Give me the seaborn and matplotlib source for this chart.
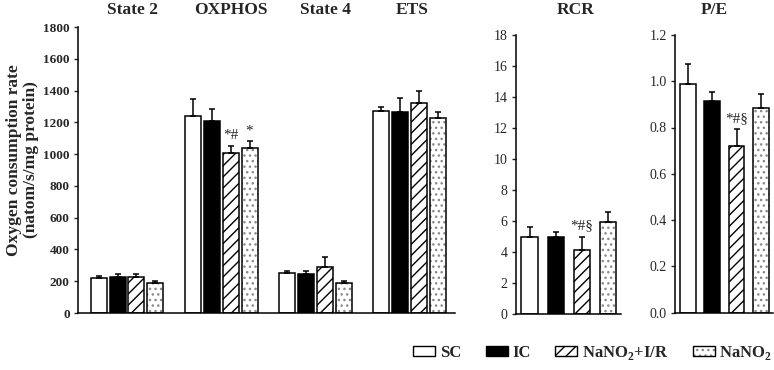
import matplotlib
matplotlib.use("Agg")
import matplotlib.pyplot as plt
from matplotlib.patches import Patch
import numpy as np
import pandas as pd
import seaborn as sns

# Data
phases = ["State 2", "OXPHOS", "State 4", "ETS"]
groups = ["SC", "IC", "NaNO2+I/R", "NaNO2"]
group_labels = ["SC", "IC", r"NaNO$_\mathbf{2}$+I/R", r"NaNO$_\mathbf{2}$"]

sc_rate = [220, 1240, 250, 1272]
sc_err = [16, 108, 16, 24]
ic_rate = [228, 1210, 243, 1262]
ic_err = [17, 75, 22, 93]
ir_rate = [228, 1006, 288, 1323]
ir_err = [20, 42, 62, 76]
no2_rate = [190, 1038, 187, 1225]
no2_err = [10, 42, 17, 38]

rcr_mean = [5.0, 5.0, 4.13, 5.95]
rcr_err = [0.6, 0.3, 0.87, 0.6]
pe_mean = [0.988, 0.916, 0.72, 0.883]
pe_err = [0.086, 0.039, 0.073, 0.062]

# significance marks: (phase, group, text)
rate_marks = [("OXPHOS", "NaNO2+I/R", "*#"), ("OXPHOS", "NaNO2", "*")]
rcr_marks = [("NaNO2+I/R", "*#§")]
pe_marks = [("NaNO2+I/R", "*#§")]

fills = ["white", "black", "white", "white"]
hatches = ["", "", "///", "..."]
hatch_colors = ["black", "black", "black", "#8a8a8a"]

sns.set_style("ticks")
plt.rcParams["font.family"] = ["Liberation Serif", "DejaVu Serif"]
plt.rcParams["mathtext.fontset"] = "custom"
plt.rcParams["mathtext.rm"] = "Liberation Serif"
plt.rcParams["mathtext.bf"] = "Liberation Serif:bold"
plt.rcParams["hatch.linewidth"] = 1.0

# long table for the rate panel
rate_df = pd.DataFrame({
    "phase": phases * 4,
    "group": np.repeat(groups, 4),
    "rate": sc_rate + ic_rate + ir_rate + no2_rate,
    "err": sc_err + ic_err + ir_err + no2_err,
})


def style_patch(p, k):
    p.set_hatch(hatches[k])
    # matplotlib 3.10 ties hatch colour to the edge colour; override it
    p._hatch_color = matplotlib.colors.to_rgba(hatch_colors[k])


fig = plt.figure(figsize=(7.74, 3.70), dpi=100)
ax1 = fig.add_axes([78 / 774, 57 / 370, 377 / 774, 286 / 370])
ax2 = fig.add_axes([516 / 774, 56 / 370, 105 / 774, 279 / 370])
ax3 = fig.add_axes([675 / 774, 57.5 / 370, 98 / 774, 277.5 / 370])

pal = dict(zip(groups, fills))

# ---- oxygen consumption rate panel
sns.barplot(data=rate_df, x="phase", y="rate", hue="group", order=phases,
            hue_order=groups, palette=pal, saturation=1, width=0.8, gap=0.15,
            edgecolor="black", linewidth=1.1, errorbar=None, legend=False, ax=ax1)
for p in ax1.patches:
    xc = p.get_x() + p.get_width() / 2
    style_patch(p, int(round((xc - round(xc) + 0.3) / 0.2)))

for k, g in enumerate(groups):
    sub = rate_df[rate_df.group == g]
    xs = np.arange(len(phases)) + (k - 1.5) * 0.2
    ax1.errorbar(xs, sub.rate, yerr=[np.zeros(len(sub)), sub.err], fmt="none",
                 ecolor="black", elinewidth=1.1, capsize=2.2, capthick=1.1, zorder=1)

for ph, g, txt in rate_marks:
    row = rate_df[(rate_df.phase == ph) & (rate_df.group == g)].iloc[0]
    x = phases.index(ph) + (groups.index(g) - 1.5) * 0.2
    ax1.annotate(txt, (x, row.rate + row.err), xytext=(0, 3), textcoords="offset points",
                 ha="center", va="bottom", fontsize=11)

ax1.set_xlim(-0.52, 3.48)
ax1.set_ylim(0, 1800)
ax1.set_yticks(range(0, 1801, 200))
ax1.set_xticks([])
ax1.set_xlabel("")
ax1.set_ylabel("Oxygen consumption rate\n(natom/s/mg protein)", fontsize=12.5,
               fontweight="bold", linespacing=1.05)
ax1.yaxis.set_label_coords(-0.104, 0.535)
for lab in ax1.get_yticklabels():
    lab.set_fontweight("bold")
ax1.tick_params(axis="y", labelsize=9.5, length=3, width=1, pad=3)

title_x = [0.06, 1.10, 2.11, 3.02]
for tx, ph in zip(title_x, phases):
    ax1.text(tx, 1.06, ph, transform=ax1.get_xaxis_transform(), ha="center",
             va="center", fontsize=12.5, fontweight="bold")


# ---- ratio panels
def ratio_panel(ax, means, errs, marks, ymax, step, fmt, title, title_pos):
    d = pd.DataFrame({"group": groups, "val": means, "err": errs})
    sns.barplot(data=d, x="group", y="val", hue="group", order=groups, hue_order=groups,
                palette=pal, saturation=1, width=0.64, edgecolor="black", linewidth=1.1,
                errorbar=None, legend=False, ax=ax)
    for p in ax.patches:
        xc = p.get_x() + p.get_width() / 2
        style_patch(p, int(round(xc)))
    ax.errorbar(np.arange(4), d.val, yerr=[np.zeros(4), d.err], fmt="none",
                ecolor="black", elinewidth=1.1, capsize=2.2, capthick=1.1, zorder=1)
    for g, txt in marks:
        i = groups.index(g)
        ax.annotate(txt, (i, means[i] + errs[i]), xytext=(0, 3), textcoords="offset points",
                    ha="center", va="bottom", fontsize=11)
    ax.set_xlim(-0.53, 3.5)
    ax.set_ylim(0, ymax)
    ax.set_yticks(np.arange(0, ymax + step / 2, step))
    ax.yaxis.set_major_formatter(plt.FormatStrFormatter(fmt))
    ax.set_xticks([])
    ax.set_xlabel("")
    ax.set_ylabel("")
    ax.tick_params(axis="y", labelsize=10, length=3, width=1, pad=3)
    ax.text(title_pos, 1.09, title, transform=ax.transAxes, ha="center", va="center",
            fontsize=12.5, fontweight="bold")


ratio_panel(ax2, rcr_mean, rcr_err, rcr_marks, 18, 2, "%d", "RCR", 0.57)
ratio_panel(ax3, pe_mean, pe_err, pe_marks, 1.2, 0.2, "%.1f", "P/E", 0.40)

for ax in (ax1, ax2, ax3):
    sns.despine(ax=ax)
    for s in ("left", "bottom"):
        ax.spines[s].set_linewidth(1.1)
        ax.spines[s].set_color("black")

handles = []
for k in range(4):
    h = Patch(facecolor=fills[k], edgecolor="black", linewidth=1.0)
    style_patch(h, k)
    handles.append(h)
leg = fig.legend(handles, group_labels, loc="center right", bbox_to_anchor=(772 / 774, 17 / 370),
                 ncol=4, frameon=False, prop={"weight": "bold", "size": 12},
                 handlelength=1.32, handleheight=0.6, handletextpad=0.25,
                 columnspacing=1.5, borderpad=0, borderaxespad=0)
for k, h in enumerate(leg.get_patches()):
    style_patch(h, k)

fig.savefig("out.png", dpi=100)
